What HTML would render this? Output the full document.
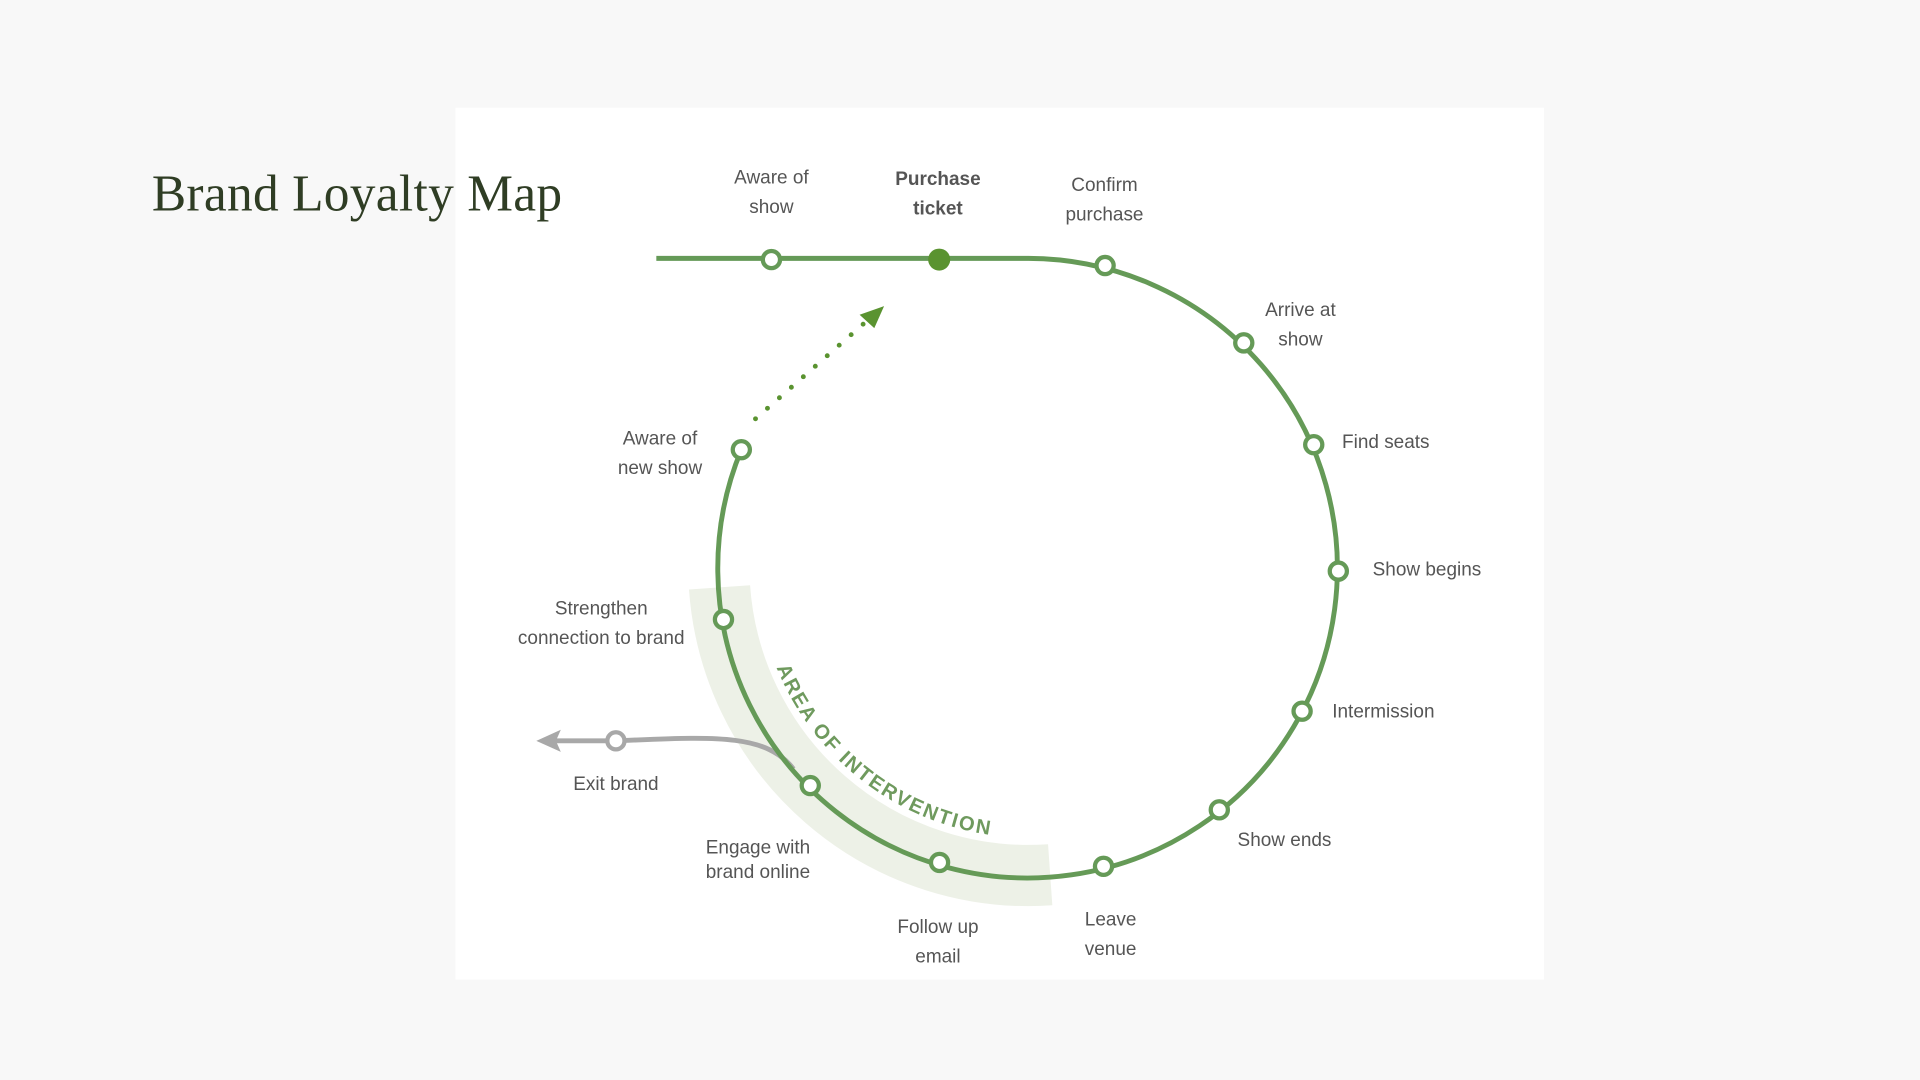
<!DOCTYPE html>
<html><head><meta charset="utf-8"><style>
html,body{margin:0;padding:0;background:#f8f8f8;width:1920px;height:1080px;overflow:hidden}
svg{display:block}
.lbl{font-family:"Liberation Sans",sans-serif;font-size:15.5px;fill:#555}
</style></head><body>
<svg id="map" width="1920" height="1080" viewBox="0 0 1568 882" xmlns="http://www.w3.org/2000/svg">
<rect x="372" y="88" width="889" height="712" fill="#ffffff"/>
<text x="124" y="172" font-family="Liberation Serif,serif" font-size="42" fill="#2f3d24" textLength="335">Brand Loyalty Map</text>
<g id="g"></g>
</svg>
<script>
const cx=840, cy=462, R=253;
const stepNames=["Confirm purchase","Arrive at show","Find seats","Show begins","Intermission","Show ends","Leave venue","Follow up email","Engage with brand online","Strengthen connection to brand","Aware of new show"];
const stepAngles=[-75.7,-46,-23,1,28,52,76,106.7,134.8,170,202];
const NS="http://www.w3.org/2000/svg";
const g=document.getElementById('g');
function el(t,a,p){const e=document.createElementNS(NS,t);for(const k in a)e.setAttribute(k,a[k]);(p||g).appendChild(e);return e;}
function pt(ang,r){const a=ang*Math.PI/180;return [cx+(r||R)*Math.cos(a),cy+(r||R)*Math.sin(a)];}
let b1=pt(86),b2=pt(176);
let band=el('path',{d:`M${b1[0]},${b1[1]} A${R},${R} 0 0 1 ${b2[0]},${b2[1]}`,fill:'none',stroke:'#edf1e7','stroke-width':50});


let t1=pt(158,222),t2=pt(90,222);
el('path',{id:'tp',d:`M${t1[0]},${t1[1]} A222,222 0 0 0 ${t2[0]},${t2[1]}`,fill:'none'});
let tx=el('text',{'font-family':'Liberation Sans,sans-serif','font-size':'16.5','font-weight':'bold',fill:'#6f9a5e','letter-spacing':'1.6'});


let tpth=el('textPath',{href:'#tp'},tx);tpth.textContent='AREA OF INTERVENTION';
let ex=el('path',{d:'M648,628 C625,598 580,602 503,605 L452,605',fill:'none',stroke:'#a8a8a8','stroke-width':4});


let ea=el('path',{d:'M438,605 L458,596 L454,605 L458,614 Z',fill:'#a8a8a8'});


let e0=pt(202);
let tr=el('path',{d:`M536,211 L840,211 A${R},${R} 0 1 1 ${e0[0]},${e0[1]}`,fill:'none',stroke:'#659a57','stroke-width':4});


let da=el('path',{d:'M617,342 L708,262',fill:'none',stroke:'#5a9330','stroke-width':4,'stroke-linecap':'round','stroke-dasharray':'0 13'});


let dh=el('path',{d:'M722,250 L702,257 L714,268 Z',fill:'#5a9330'});


function node(x,y,name,fill,col){const c=el('circle',{cx:x,cy:y,r:fill?9:7,fill:fill||'#fff',stroke:col||'#659a57','stroke-width':fill?0:3.5});

}
node(630,212,'node-aware-of-show');
node(767,212,'node-purchase-ticket','#5a9330');
stepAngles.forEach((a,i)=>{const p=pt(a);node(p[0],p[1],'node-'+stepNames[i].toLowerCase().replace(/ /g,'-'));});
node(503,605,'node-exit-brand',null,'#a8a8a8');
function lbl(lines,x,y,anchor,name,bold,gap){const t=el('text',{class:'lbl',x:x,y:y,'text-anchor':anchor||'middle'});


if(bold){t.setAttribute('font-weight','bold');t.setAttribute('fill','#444');}
lines.forEach((s,i)=>{const ts=el('tspan',{x:x,dy:i?(gap||24):0},t);ts.textContent=s;});}
lbl(['Aware of','show'],630,150,'middle','label-aware-of-show');
lbl(['Purchase','ticket'],766,151,'middle','label-purchase-ticket',true);
lbl(['Confirm','purchase'],902,156,'middle','label-confirm-purchase');
lbl(['Arrive at','show'],1062,258,'middle','label-arrive-at-show');
lbl(['Find seats'],1096,366,'start','label-find-seats');
lbl(['Show begins'],1121,470,'start','label-show-begins');
lbl(['Intermission'],1088,586,'start','label-intermission');
lbl(['Show ends'],1049,691,'middle','label-show-ends');
lbl(['Leave','venue'],907,756,'middle','label-leave-venue');
lbl(['Follow up','email'],766,762,'middle','label-follow-up-email');
lbl(['Engage with','brand online'],619,697,'middle','label-engage-online',false,20);
lbl(['Exit brand'],503,645,'middle','label-exit-brand');
lbl(['Strengthen','connection to brand'],491,502,'middle','label-strengthen-connection');
lbl(['Aware of','new show'],539,363,'middle','label-aware-new-show');
</script>
</body></html>
